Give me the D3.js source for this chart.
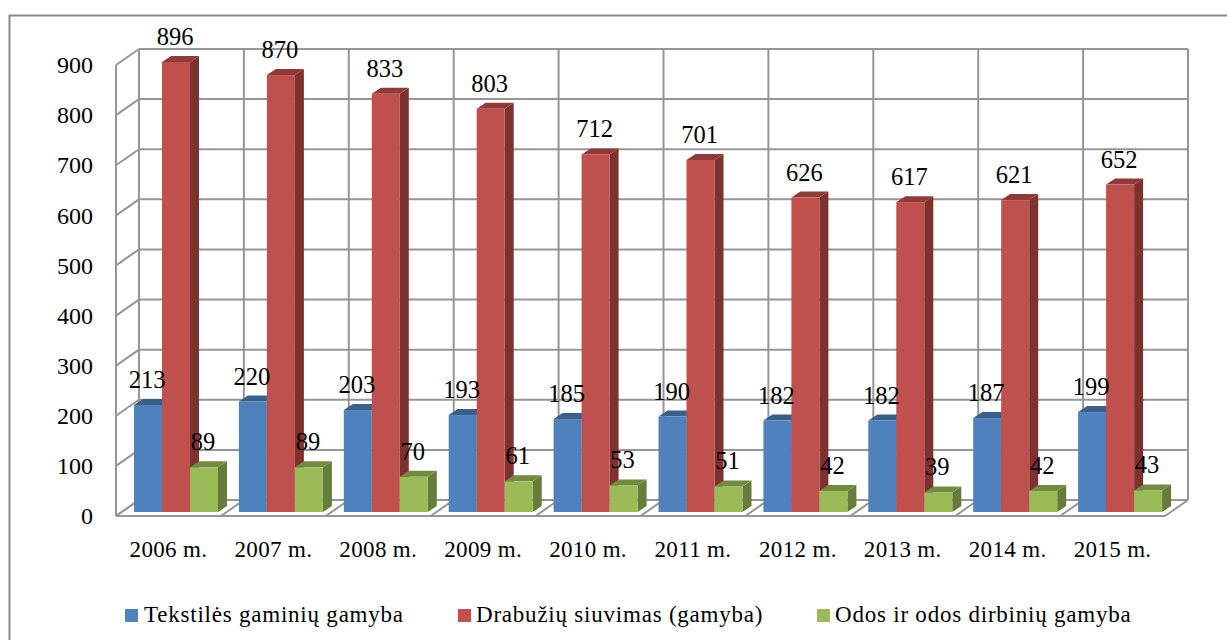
<!DOCTYPE html>
<html>
<head>
    <meta charset="utf-8">
    <title>Gamyba 2006-2015</title>
    <script src="https://d3js.org/d3.v7.min.js"></script>
    <style>
        html, body { margin: 0; padding: 0; background: #fff; }
        svg { display: block; }
        text { font-family: "Liberation Serif", serif; fill: #000; }
        .value { font-size: 24.5px; text-anchor: middle; }
        .legend { font-size: 23px; letter-spacing: 0.78px; }
    </style>
</head>
<body>
<div id="visualization"></div>
<script>
const years = ["2006 m.", "2007 m.", "2008 m.", "2009 m.", "2010 m.", "2011 m.", "2012 m.", "2013 m.", "2014 m.", "2015 m."];
const textiles = [213, 220, 203, 193, 185, 190, 182, 182, 187, 199];
const clothing = [896, 870, 833, 803, 712, 701, 626, 617, 621, 652];
const leather = [89, 89, 70, 61, 53, 51, 42, 39, 42, 43];
const seriesNames = ["Tekstilės gaminių gamyba", "Drabužių siuvimas (gamyba)", "Odos ir odos dirbinių gamyba"];
const seriesValues = [textiles, clothing, leather];
const yTicks = [0, 100, 200, 300, 400, 500, 600, 700, 800, 900];

const colors = [
    {front: "#4f81bd", top: "#3a6089", side: "#2f4f75"},
    {front: "#c0504d", top: "#8e3b39", side: "#7d3230"},
    {front: "#9bbb59", top: "#728a41", side: "#667c3a"}
];
const gridColor = "#969696";

const svg = d3.select("#visualization").append("svg")
    .attr("width", 1227)
    .attr("height", 640);

// outer frame of the pasted chart, only top and left fall inside the picture
svg.append("path")
    .attr("d", "M9.5,640V15.5H1227")
    .attr("fill", "none").attr("stroke", "#8c8c8c").attr("stroke-width", 2);

const x = d3.scaleBand().domain(years).range([116, 1165]);
const y = d3.scaleLinear().domain([0, 900]).range([516, 65]);
// bars stand a bit inside the floor, so they have their own height scale
const barY = d3.scaleLinear().domain([0, 900]).range([512, 60]);
const wallDx = 23, wallDy = -16;
const barW = 28, barDx = 9, barDy = -6, barStart = 18;

// back wall and left wall grid
const grid = svg.append("g").attr("fill", "none").attr("stroke", gridColor).attr("stroke-width", 2);
yTicks.forEach(t => {
    grid.append("line")
        .attr("x1", x.range()[0] + wallDx).attr("x2", x.range()[1] + wallDx)
        .attr("y1", y(t) + wallDy).attr("y2", y(t) + wallDy);
    grid.append("line")
        .attr("x1", x.range()[0]).attr("x2", x.range()[0] + wallDx)
        .attr("y1", y(t)).attr("y2", y(t) + wallDy);
});
years.concat([null]).forEach(yr => {
    const xPos = yr ? x(yr) : x.range()[1];
    grid.append("line")
        .attr("x1", xPos + wallDx).attr("x2", xPos + wallDx)
        .attr("y1", y(0) + wallDy).attr("y2", y(900) + wallDy);
    grid.append("line")
        .attr("x1", xPos).attr("x2", xPos + wallDx)
        .attr("y1", y(0)).attr("y2", y(0) + wallDy);
});
grid.append("line")
    .attr("x1", x.range()[0]).attr("x2", x.range()[0])
    .attr("y1", y(0)).attr("y2", y(900));
grid.append("line")
    .attr("x1", x.range()[0]).attr("x2", x.range()[1])
    .attr("y1", y(0)).attr("y2", y(0));

// bars, series by series so the next one covers the side of the previous
seriesValues.forEach((values, s) => {
    const g = svg.append("g");
    const left = d => x(d.year) + barStart + s * barW;
    const data = values.map((v, i) => ({year: years[i], value: v}));

    g.selectAll(".side").data(data).enter().append("polygon")
        .attr("fill", colors[s].side)
        .attr("points", d => {
            const r = left(d) + barW, t = barY(d.value), b = barY(0);
            return [[r, t], [r + barDx, t + barDy], [r + barDx, b + barDy], [r, b]].join(" ");
        });
    g.selectAll(".top").data(data).enter().append("polygon")
        .attr("fill", colors[s].top)
        .attr("points", d => {
            const l = left(d), t = barY(d.value);
            return [[l, t], [l + barDx, t + barDy], [l + barW + barDx, t + barDy], [l + barW, t]].join(" ");
        });
    g.selectAll(".front").data(data).enter().append("rect")
        .attr("fill", colors[s].front)
        .attr("x", left)
        .attr("y", d => barY(d.value))
        .attr("width", barW)
        .attr("height", d => barY(0) - barY(d.value));
});

// data labels on top of everything
seriesValues.forEach((values, s) => {
    svg.append("g").selectAll("text").data(values).enter().append("text")
        .attr("class", "value")
        .attr("x", (d, i) => x(years[i]) + barStart + s * barW + barW / 2 - 1)
        .attr("y", d => barY(d) - 17)
        .text(d => d);
});

// axes
svg.append("g")
    .attr("transform", "translate(93,0)")
    .call(d3.axisLeft(y).tickValues(yTicks).tickSize(0).tickPadding(0))
    .call(g => g.select(".domain").remove())
    .selectAll("text").style("font-family", "Liberation Serif").style("font-size", "24px");

svg.append("g")
    .attr("transform", "translate(0,541)")
    .call(d3.axisBottom(x).tickSize(0).tickPadding(0))
    .call(g => g.select(".domain").remove())
    .selectAll("text").style("font-family", "Liberation Serif").style("font-size", "23px").style("letter-spacing", "0.35px");

// legend
const legendSwatch = [125, 458, 817];
seriesNames.forEach((name, i) => {
    const g = svg.append("g").attr("transform", `translate(${legendSwatch[i]},609)`);
    g.append("rect").attr("width", 13).attr("height", 13).attr("fill", colors[i].front);
    g.append("text").attr("class", "legend").attr("x", i === 0 ? 19 : 18).attr("y", 13).text(name);
});
</script>
</body>
</html>
